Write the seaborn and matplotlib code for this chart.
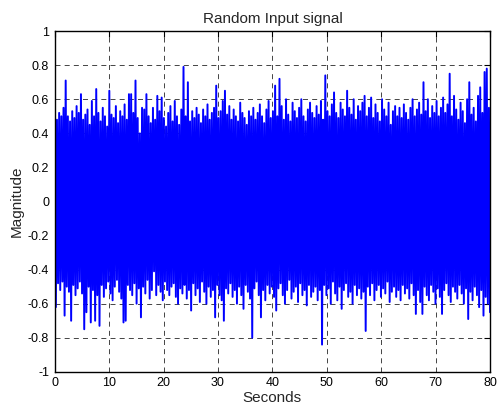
import numpy as np
import pandas as pd
import matplotlib
matplotlib.use("Agg")
import matplotlib.pyplot as plt
import seaborn as sns

# Upper (positive) peaks of the signal (one every 0.4 s)
upper_peaks = [
    0.59, 0.48, 0.52, 0.50, 0.55, 0.71, 0.50, 0.47, 0.53, 0.49, 0.56, 0.52, 0.63, 0.48, 0.51, 0.54, 0.45, 0.59, 0.50, 0.66,
    0.52, 0.47, 0.55, 0.50, 0.44, 0.65, 0.51, 0.49, 0.56, 0.46, 0.53, 0.50, 0.57, 0.48, 0.63, 0.63, 0.52, 0.71, 0.49, 0.40,
    0.55, 0.54, 0.63, 0.50, 0.46, 0.55, 0.48, 0.62, 0.53, 0.61, 0.49, 0.44, 0.52, 0.56, 0.47, 0.59, 0.50, 0.45, 0.54, 0.79,
    0.50, 0.70, 0.47, 0.53, 0.49, 0.55, 0.51, 0.46, 0.54, 0.50, 0.57, 0.48, 0.52, 0.55, 0.68, 0.49, 0.53, 0.59, 0.65, 0.51,
    0.56, 0.48, 0.54, 0.50, 0.47, 0.58, 0.52, 0.49, 0.45, 0.53, 0.50, 0.55, 0.48, 0.52, 0.57, 0.50, 0.46, 0.54, 0.59, 0.49,
    0.53, 0.68, 0.50, 0.72, 0.56, 0.48, 0.60, 0.51, 0.47, 0.58, 0.53, 0.49, 0.55, 0.60, 0.50, 0.47, 0.54, 0.58, 0.52, 0.49,
    0.56, 0.51, 0.59, 0.48, 0.74, 0.53, 0.50, 0.57, 0.64, 0.52, 0.49, 0.58, 0.54, 0.50, 0.65, 0.55, 0.51, 0.60, 0.48, 0.56,
    0.53, 0.58, 0.62, 0.50, 0.55, 0.61, 0.49, 0.57, 0.52, 0.47, 0.60, 0.54, 0.50, 0.58, 0.45, 0.53, 0.56, 0.50, 0.55, 0.49,
    0.57, 0.52, 0.48, 0.55, 0.60, 0.50, 0.54, 0.58, 0.51, 0.70, 0.53, 0.60, 0.49, 0.56, 0.52, 0.59, 0.50, 0.55, 0.61, 0.52,
    0.57, 0.75, 0.50, 0.62, 0.54, 0.48, 0.58, 0.53, 0.46, 0.60, 0.70, 0.51, 0.55, 0.47, 0.62, 0.67, 0.52, 0.76, 0.78, 0.55,
]

# Lower (negative) peaks of the signal (one every 0.4 s)
lower_peaks = [
    -0.62, -0.48, -0.52, -0.47, -0.67, -0.50, -0.53, -0.70, -0.49, -0.55, -0.51, -0.47, -0.54, -0.75, -0.65, -0.50, -0.71, -0.52, -0.70, -0.55,
    -0.73, -0.49, -0.56, -0.51, -0.47, -0.54, -0.58, -0.50, -0.46, -0.53, -0.57, -0.71, -0.70, -0.49, -0.52, -0.55, -0.48, -0.60, -0.51, -0.68,
    -0.50, -0.54, -0.46, -0.57, -0.52, -0.41, -0.55, -0.49, -0.53, -0.58, -0.47, -0.52, -0.55, -0.50, -0.48, -0.56, -0.60, -0.51, -0.54, -0.49,
    -0.57, -0.52, -0.64, -0.48, -0.55, -0.51, -0.59, -0.47, -0.53, -0.60, -0.50, -0.56, -0.52, -0.68, -0.49, -0.55, -0.58, -0.70, -0.51, -0.54,
    -0.48, -0.56, -0.52, -0.60, -0.50, -0.55, -0.63, -0.49, -0.53, -0.57, -0.80, -0.51, -0.47, -0.55, -0.68, -0.52, -0.58, -0.49, -0.54, -0.50,
    -0.56, -0.64, -0.51, -0.48, -0.55, -0.60, -0.52, -0.46, -0.57, -0.53, -0.50, -0.59, -0.48, -0.55, -0.52, -0.61, -0.49, -0.56, -0.53, -0.50,
    -0.58, -0.52, -0.84, -0.49, -0.55, -0.51, -0.60, -0.47, -0.54, -0.58, -0.50, -0.63, -0.52, -0.48, -0.56, -0.53, -0.60, -0.49, -0.55, -0.51,
    -0.57, -0.53, -0.76, -0.50, -0.55, -0.48, -0.58, -0.52, -0.49, -0.56, -0.51, -0.54, -0.47, -0.59, -0.53, -0.50, -0.56, -0.52, -0.58, -0.49,
    -0.54, -0.51, -0.57, -0.48, -0.55, -0.66, -0.52, -0.59, -0.66, -0.50, -0.55, -0.58, -0.49, -0.53, -0.60, -0.51, -0.56, -0.66, -0.52, -0.48,
    -0.55, -0.59, -0.50, -0.53, -0.57, -0.49, -0.54, -0.60, -0.51, -0.69, -0.53, -0.58, -0.50, -0.55, -0.62, -0.52, -0.67, -0.56, -0.60, -0.65,
]

x_ticks = [0, 10, 20, 30, 40, 50, 60, 70, 80]
y_ticks = [-1, -0.8, -0.6, -0.4, -0.2, 0, 0.2, 0.4, 0.6, 0.8, 1]
y_tick_labels = ["-1", "-0.8", "-0.6", "-0.4", "-0.2", "0", "0.2", "0.4", "0.6", "0.8", "1"]

# Interleave peaks into one signal
signal = []
for u, l in zip(upper_peaks, lower_peaks):
    signal.extend([u, l])
t_end = 80
seconds = np.linspace(0, t_end, len(signal))
df = pd.DataFrame({"Seconds": seconds, "Magnitude": signal})

sns.set_style("white")
plt.rcParams["font.family"] = ["Liberation Sans", "DejaVu Sans"]

fig = plt.figure(figsize=(4.98, 4.15), dpi=100)
ax = fig.add_axes([0.110, 0.104, 0.874, 0.821])

sns.lineplot(data=df, x="Seconds", y="Magnitude", ax=ax, color="#0000FF",
             linewidth=1.4, estimator=None, sort=False, zorder=3)

ax.set_xlim(0, 80)
ax.set_ylim(-1, 1)
ax.set_xticks(x_ticks)
ax.set_xticklabels([str(v) for v in x_ticks])
ax.set_yticks(y_ticks)
ax.set_yticklabels(y_tick_labels)
ax.set_axisbelow(True)
ax.grid(True, color="black", linestyle=(0, (6, 5)), linewidth=0.6, alpha=0.85, zorder=0)
ax.tick_params(axis="both", direction="in", length=4, width=0.8, labelsize=9,
               top=True, right=True, colors="black", pad=4)
for s in ax.spines.values():
    s.set_visible(True)
    s.set_color("black")
    s.set_linewidth(1.0)
    s.set_zorder(5)

ax.set_title("Random Input signal", fontsize=11, pad=6)
ax.set_xlabel("Seconds", fontsize=11, labelpad=1)
ax.set_ylabel("Magnitude", fontsize=11, labelpad=3)

fig.savefig("out.png", dpi=100, facecolor="white")
